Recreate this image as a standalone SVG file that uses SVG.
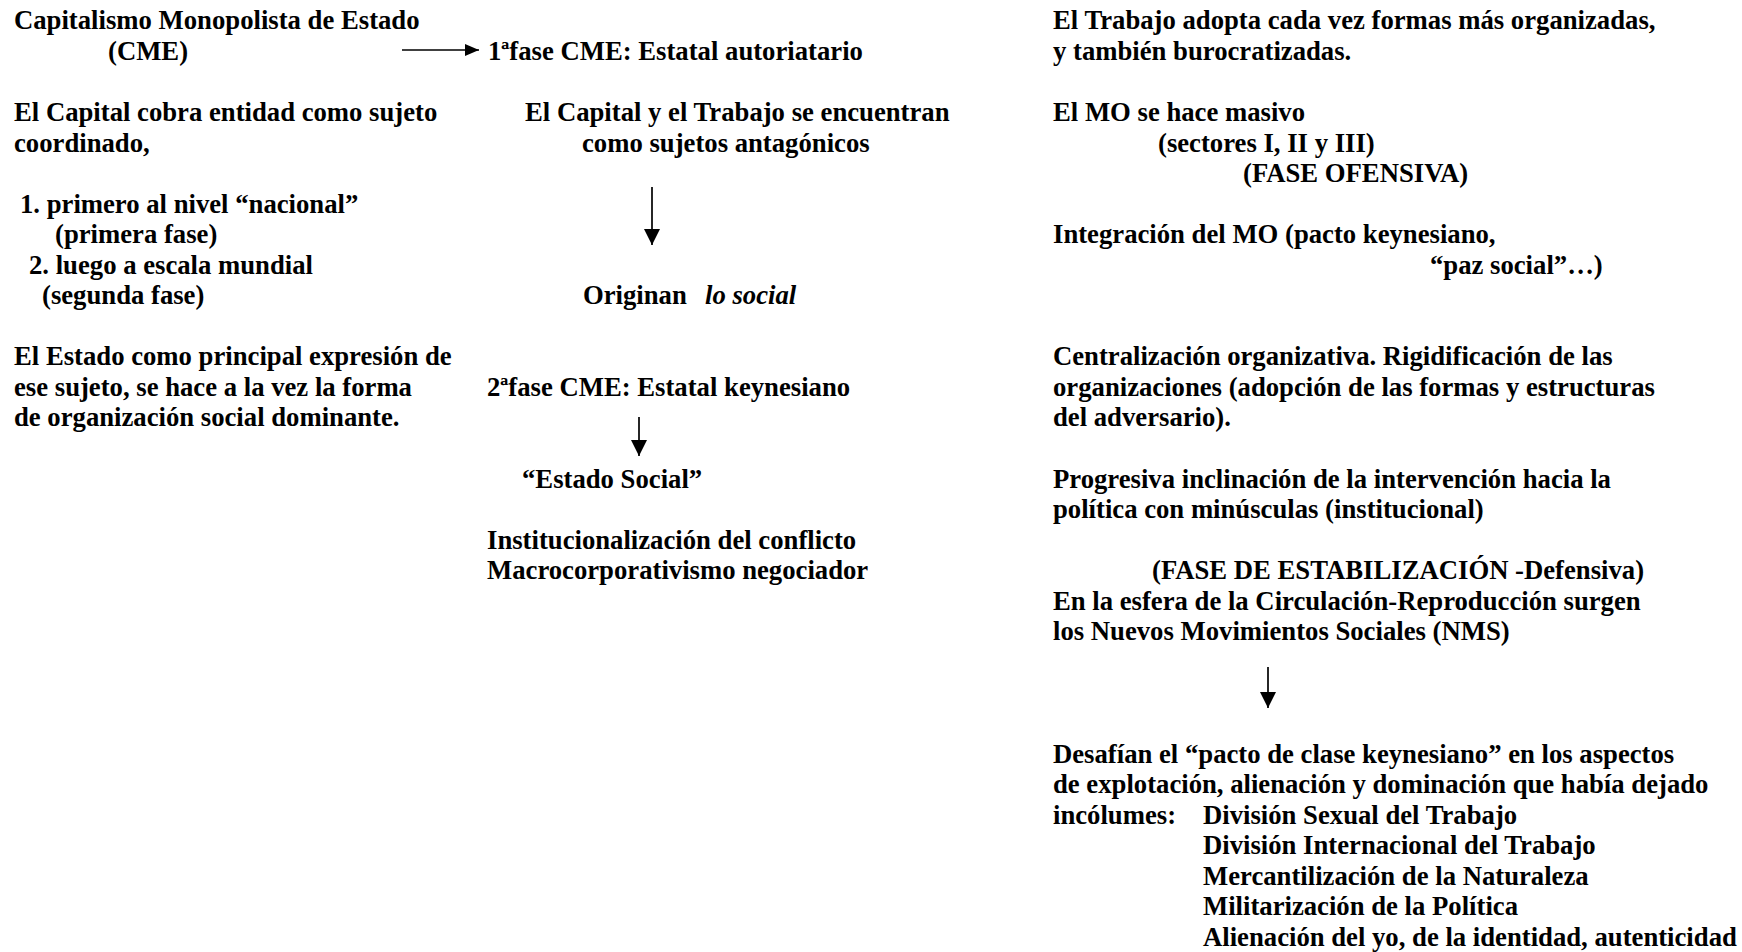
<svg xmlns="http://www.w3.org/2000/svg" width="1742" height="952" viewBox="0 0 1742 952">
<style>
text{font-family:"Liberation Serif","Times New Roman",serif;font-weight:bold;font-size:26.7px;fill:#000}
.it{font-style:italic}
.conn{stroke:#000;stroke-width:1.7;fill:none}
</style>
<defs>
<marker id="ah" markerUnits="userSpaceOnUse" markerWidth="18" markerHeight="18" refX="16" refY="8" orient="auto">
<path d="M0,0 L16,8 L0,16 Z" fill="#000"/>
</marker>
<marker id="ahs" markerUnits="userSpaceOnUse" markerWidth="16" markerHeight="14" refX="14" refY="6" orient="auto">
<path d="M0,0 L14,6 L0,12 Z" fill="#000"/>
</marker>
</defs>
<rect x="0" y="0" width="1742" height="952" fill="#fff"/>
<g id="n-cme">
<text x="14" y="29.3">Capitalismo Monopolista de Estado</text>
<text x="108" y="59.85">(CME)</text>
</g>
<g id="n-capital-sujeto">
<text x="14" y="120.95">El Capital cobra entidad como sujeto</text>
<text x="14" y="151.5">coordinado,</text>
</g>
<g id="n-niveles">
<text x="20" y="212.6">1. primero al nivel “nacional”</text>
<text x="55" y="243.15">(primera fase)</text>
<text x="29" y="273.7">2. luego a escala mundial</text>
<text x="42" y="304.25">(segunda fase)</text>
</g>
<g id="n-estado">
<text x="14" y="365.35">El Estado como principal expresión de</text>
<text x="14" y="395.9">ese sujeto, se hace a la vez la forma</text>
<text x="14" y="426.45">de organización social dominante.</text>
</g>
<g id="n-fase1">
<text x="488" y="59.85">1ªfase CME: Estatal autoriatario</text>
</g>
<g id="n-antagonicos">
<text x="525" y="120.95">El Capital y el Trabajo se encuentran</text>
<text x="582" y="151.5">como sujetos antagónicos</text>
</g>
<g id="n-originan">
<text x="583" y="304.25">Originan <tspan class="it" x="705">lo social</tspan></text>
</g>
<g id="n-fase2">
<text x="487" y="395.9">2ªfase CME: Estatal keynesiano</text>
</g>
<g id="n-estado-social">
<text x="522" y="487.55">“Estado Social”</text>
</g>
<g id="n-institucionalizacion">
<text x="487" y="548.65">Institucionalización del conflicto</text>
<text x="487" y="579.2">Macrocorporativismo negociador</text>
</g>
<g id="n-trabajo">
<text x="1053" y="29.3">El Trabajo adopta cada vez formas más organizadas,</text>
<text x="1053" y="59.85">y también burocratizadas.</text>
</g>
<g id="n-mo-masivo">
<text x="1053" y="120.95">El MO se hace masivo</text>
<text x="1158" y="151.5">(sectores I, II y III)</text>
<text x="1243" y="182.05">(FASE OFENSIVA)</text>
</g>
<g id="n-integracion">
<text x="1053" y="243.15">Integración del MO (pacto keynesiano,</text>
<text x="1430" y="273.7">“paz social”…)</text>
</g>
<g id="n-centralizacion">
<text x="1053" y="365.35">Centralización organizativa. Rigidificación de las</text>
<text x="1053" y="395.9">organizaciones (adopción de las formas y estructuras</text>
<text x="1053" y="426.45">del adversario).</text>
</g>
<g id="n-progresiva">
<text x="1053" y="487.55">Progresiva inclinación de la intervención hacia la</text>
<text x="1053" y="518.1">política con minúsculas (institucional)</text>
</g>
<g id="n-nms">
<text x="1152" y="579.2">(FASE DE ESTABILIZACIÓN -Defensiva)</text>
<text x="1053" y="609.75">En la esfera de la Circulación-Reproducción surgen</text>
<text x="1053" y="640.3">los Nuevos Movimientos Sociales (NMS)</text>
</g>
<g id="n-desafian">
<text x="1053" y="762.5">Desafían el “pacto de clase keynesiano” en los aspectos</text>
<text x="1053" y="793.05">de explotación, alienación y dominación que había dejado</text>
<text x="1053" y="823.6">incólumes:<tspan x="1203">División Sexual del Trabajo</tspan></text>
<text x="1203" y="854.15">División Internacional del Trabajo</text>
<text x="1203" y="884.7">Mercantilización de la Naturaleza</text>
<text x="1203" y="915.25">Militarización de la Política</text>
<text x="1203" y="945.8">Alienación del yo, de la identidad, autenticidad</text>
</g>
<g id="connectors">
<line class="conn" x1="402" y1="50" x2="479" y2="50" marker-end="url(#ahs)"/>
<line class="conn" x1="652" y1="187" x2="652" y2="245" marker-end="url(#ah)"/>
<line class="conn" x1="639" y1="417" x2="639" y2="456" marker-end="url(#ah)"/>
<line class="conn" x1="1268" y1="667" x2="1268" y2="708" marker-end="url(#ah)"/>
</g>
</svg>
